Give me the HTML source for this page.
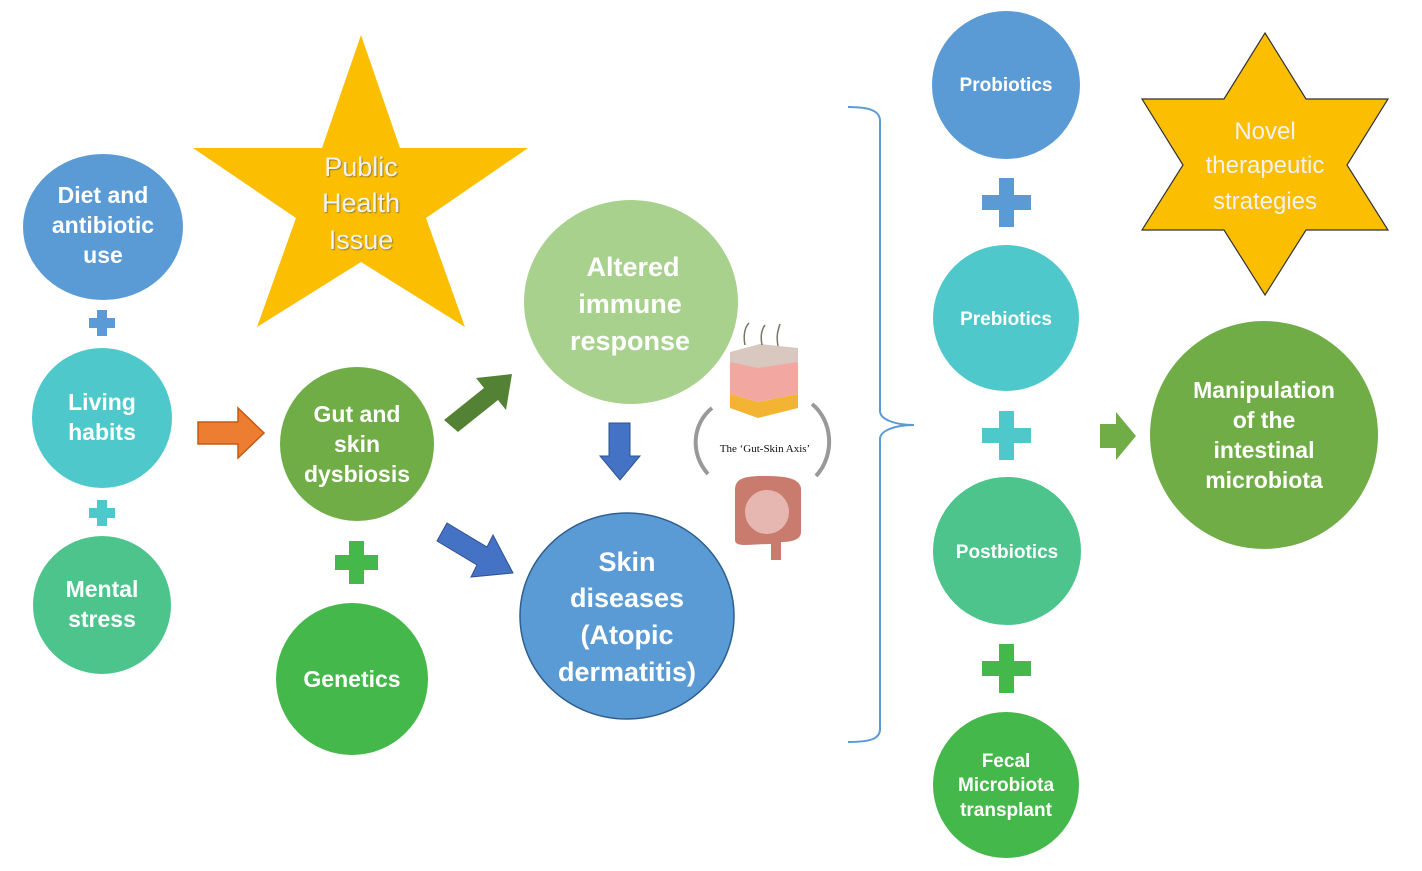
<!DOCTYPE html>
<html><head><meta charset="utf-8"><style>
html,body{margin:0;padding:0;background:#fff;}
svg{display:block;}
text{font-family:"Liberation Sans",sans-serif;font-weight:bold;fill:#fff;text-anchor:middle;}
.s{font-weight:normal;fill:#f2f2f2;}
</style></head><body>
<svg width="1422" height="871" viewBox="0 0 1422 871" xmlns="http://www.w3.org/2000/svg">
<defs>
<filter id="sh"><feDropShadow dx="1" dy="1" stdDeviation="0.6" flood-color="#7a6a30" flood-opacity="0.8"/></filter>
</defs>
<!-- left column -->
<ellipse cx="103" cy="227" rx="80" ry="73" fill="#5b9bd5"/>
<text x="103" y="203" font-size="23">Diet and</text>
<text x="103" y="233" font-size="23">antibiotic</text>
<text x="103" y="263" font-size="23">use</text>
<path d="M97 310h10v8h8v10h-8v8h-10v-8h-8v-10h8z" fill="#5b9bd5"/>
<circle cx="102" cy="418" r="70" fill="#4fc8cc"/>
<text x="102" y="410" font-size="23">Living</text>
<text x="102" y="440" font-size="23">habits</text>
<path d="M97 500h10v8h8v10h-8v8h-10v-8h-8v-10h8z" fill="#4fc8cc"/>
<circle cx="102" cy="605" r="69" fill="#4cc48c"/>
<text x="102" y="597" font-size="23">Mental</text>
<text x="102" y="627" font-size="23">stress</text>
<!-- star -->
<polygon points="361,35 400,148 528,148 426,218 465,327 361,262 257,327 296,218 193,148 322,148" fill="#fbbe00"/>
<g filter="url(#sh)">
<text class="s" x="361" y="176" font-size="27">Public</text>
<text class="s" x="361" y="212" font-size="27">Health</text>
<text class="s" x="361" y="249" font-size="27">Issue</text>
</g>
<!-- orange arrow -->
<path d="M198 422h40v-14l26 25-26 25v-14h-40z" fill="#ed7d31" stroke="#c55a11" stroke-width="1.5"/>
<circle cx="357" cy="444" r="77" fill="#70ad47"/>
<text x="357" y="422" font-size="23">Gut and</text>
<text x="357" y="452" font-size="23">skin</text>
<text x="357" y="482" font-size="23">dysbiosis</text>
<path d="M349 541h15v14h14v15h-14v14h-15v-14h-14v-15h14z" fill="#45b84b"/>
<circle cx="352" cy="679" r="76" fill="#45b84b"/>
<text x="352" y="687" font-size="23">Genetics</text>
<!-- arrows -->
<path d="M444 420l40-32-8-10 36-4-6 36-8-10-40 32z" fill="#548235"/>
<path d="M447 523l40 24 6-12 20 38-42 4 6-12-40-24z" fill="#4472c4" stroke="#2f528f" stroke-width="1"/>
<ellipse cx="631" cy="302" rx="107" ry="102" fill="#a9d18e"/>
<text x="633" y="276" font-size="27">Altered</text>
<text x="630" y="313" font-size="27">immune</text>
<text x="630" y="350" font-size="27">response</text>
<path d="M609 423h21v33h10l-20 24-20-24h9z" fill="#4472c4" stroke="#2f528f" stroke-width="1"/>
<ellipse cx="627" cy="616" rx="107" ry="103" fill="#5b9bd5" stroke="#2f5f8f" stroke-width="1.5"/>
<text x="627" y="571" font-size="27">Skin</text>
<text x="627" y="607" font-size="27">diseases</text>
<text x="627" y="644" font-size="27">(Atopic</text>
<text x="627" y="681" font-size="27">dermatitis)</text>
<!-- gut-skin illustration -->
<g>
<path d="M730 352l30-8 38 4v16l-40 6-28-4z" fill="#d8c8c0"/>
<path d="M730 362l28 6 40-6v32l-40 8-28-8z" fill="#f2a8a0"/>
<path d="M730 394l28 8 40-8v14l-40 10-28-10z" fill="#f3b333"/>
<path d="M745 345c-2-10 0-18 4-22M762 345c-2-10 0-16 3-20M778 346c-2-10 0-16 2-22" stroke="#776" stroke-width="1.5" fill="none"/>
<path d="M712 408c-20 16-22 46-4 66" stroke="#999" stroke-width="4" fill="none"/>
<path d="M812 404c20 16 24 50 4 72" stroke="#999" stroke-width="4" fill="none"/>
<text x="765" y="452" font-size="11" style="font-family:'Liberation Serif',serif;font-weight:normal;fill:#111">The ‘Gut-Skin Axis’</text>
<path d="M735 540v-50c0-12 10-14 30-14s34 2 36 12v44c0 8-10 10-20 10v18h-10v-16c-20 0-36 4-36-4z" fill="#c97b6e"/>
<ellipse cx="767" cy="512" rx="22" ry="22" fill="#e6b7b0"/>
</g>
<!-- bracket -->
<path d="M848 107c22 0 32 4 32 14v290c0 8 14 14 34 14c-20 0-34 6-34 14v290c0 10-10 13-32 13" fill="none" stroke="#5b9bd5" stroke-width="2"/>
<!-- right column -->
<circle cx="1006" cy="85" r="74" fill="#5b9bd5"/>
<text x="1006" y="91" font-size="19">Probiotics</text>
<path d="M999 178h15v17h17v15h-17v17h-15v-17h-17v-15h17z" fill="#5b9bd5"/>
<circle cx="1006" cy="318" r="73" fill="#4fc8cc"/>
<text x="1006" y="325" font-size="19">Prebiotics</text>
<path d="M999 411h15v17h17v15h-17v17h-15v-17h-17v-15h17z" fill="#4fc8cc"/>
<circle cx="1007" cy="551" r="74" fill="#4cc48c"/>
<text x="1007" y="558" font-size="19">Postbiotics</text>
<path d="M999 644h15v17h17v15h-17v17h-15v-17h-17v-15h17z" fill="#45b84b"/>
<circle cx="1006" cy="785" r="73" fill="#45b84b"/>
<text x="1006" y="767" font-size="19">Fecal</text>
<text x="1006" y="791" font-size="19">Microbiota</text>
<text x="1006" y="816" font-size="19">transplant</text>
<path d="M1100 424h16v-12l20 24-20 24v-12h-16z" fill="#70ad47"/>
<circle cx="1264" cy="435" r="114" fill="#70ad47"/>
<text x="1264" y="398" font-size="23">Manipulation</text>
<text x="1264" y="428" font-size="23">of the</text>
<text x="1264" y="458" font-size="23">intestinal</text>
<text x="1264" y="488" font-size="23">microbiota</text>
<!-- hexagram -->
<polygon points="1265,33 1306,99 1388,99 1347,165 1388,230 1306,230 1265,295 1224,230 1142,230 1183,165 1142,99 1224,99" fill="#fbbe00" stroke="#333" stroke-width="1.2"/>
<text class="s" x="1265" y="139" font-size="24">Novel</text>
<text class="s" x="1265" y="173" font-size="24">therapeutic</text>
<text class="s" x="1265" y="209" font-size="24">strategies</text>
</svg>
</body></html>
